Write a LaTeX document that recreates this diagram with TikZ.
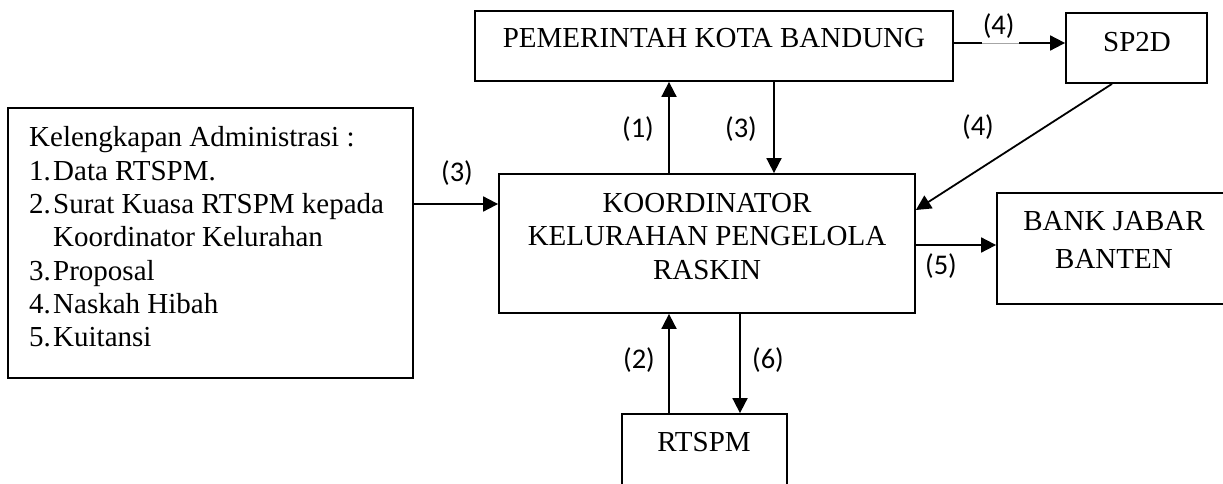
\documentclass[tikz,border=0pt]{standalone}
\usepackage{fontspec}
\setmainfont{Liberation Serif}
\newfontfamily\lblfont{Carlito}
\usetikzlibrary{arrows.meta}
\begin{document}
\begin{tikzpicture}[x=1pt,y=-1pt,
  boxnode/.style={draw,line width=1.8pt,inner sep=0pt},
  arr/.style={line width=1.8pt,-{Triangle[length=15pt,width=15pt]}},
  lbl/.style={font=\lblfont\fontsize{28.5}{32}\selectfont,inner sep=0pt},
  txt/.style={font=\fontsize{29}{33.5}\selectfont,inner sep=0pt,anchor=base},
  txtw/.style={font=\fontsize{29}{33.5}\selectfont,inner sep=0pt,anchor=base west}]
\useasboundingbox (0,0) rectangle (1223,484);
\clip (0,0) rectangle (1223,484);
\fill[white] (0,0) rectangle (1223,484);
% boxes
\node[boxnode,minimum width=478pt,minimum height=70pt] (pem) at (714,46) {};
\node[boxnode,minimum width=141pt,minimum height=70pt] (sp2d) at (1136.5,48) {};
\node[boxnode,minimum width=405pt,minimum height=270pt] (adm) at (210.5,243) {};
\node[boxnode,minimum width=416pt,minimum height=139pt] (koor) at (707,243.5) {};
\node[boxnode,minimum width=243pt,minimum height=111pt] (bank) at (1118.5,248.5) {};
\node[boxnode,minimum width=165pt,minimum height=96pt] (rtspm) at (704.5,462) {};
% texts
\node[txt] (tpem) at (714,48) {PEMERINTAH KOTA BANDUNG};
\node[txt] (tsp2d) at (1137,52) {SP2D};
\node[txt] (tk1) at (707,212) {KOORDINATOR};
\node[txt] (tk2) at (707,245) {KELURAHAN PENGELOLA};
\node[txt] (tk3) at (707,279.5) {RASKIN};
\node[txt] (tb1) at (1114,230) {BANK JABAR};
\node[txt] (tb2) at (1114,268) {BANTEN};
\node[txt] (tr) at (704,451) {RTSPM};
\node[txtw] (a0) at (29,146.7) {Kelengkapan Administrasi :};
\node[txtw] (n1) at (29,180) {1.};
\node[txtw] (a1) at (53,180) {Data RTSPM.};
\node[txtw] (n2) at (29,213.3) {2.};
\node[txtw] (a2) at (53,213.3) {Surat Kuasa RTSPM kepada};
\node[txtw] (a2b) at (53,246.7) {Koordinator Kelurahan};
\node[txtw] (n3) at (29,280) {3.};
\node[txtw] (a3) at (53,280) {Proposal};
\node[txtw] (n4) at (29,313.3) {4.};
\node[txtw] (a4) at (53,313.3) {Naskah Hibah};
\node[txtw] (n5) at (29,346.7) {5.};
\node[txtw] (a5) at (53,346.7) {Kuitansi};
% connector guides
\coordinate (c1) at (669,0);
\coordinate (c3) at (774,0);
\coordinate (r4) at (0,43);
\coordinate (d1) at (1112,0);
\coordinate (d2) at (0,210);
\coordinate (r3) at (0,204);
\coordinate (r5) at (0,245);
\coordinate (c6) at (740,0);
\coordinate (g1) at (982,43);
\coordinate (g2) at (1019,43);
% connectors
\draw[arr] (koor.north -| c1) -- (pem.south -| c1);
\draw[arr] (pem.south -| c3) -- (koor.north -| c3);
\draw[arr] (pem.east |- r4) -- (sp2d.west |- r4);
\draw[white,line width=2.4pt] (g1) -- (g2);
\draw[gray!70,line width=0.8pt] (g1) -- (g2);
\draw[arr] (sp2d.south -| d1) -- (koor.east |- d2);
\draw[arr] (adm.east |- r3) -- (koor.west |- r3);
\draw[arr] (koor.east |- r5) -- (bank.west |- r5);
\draw[arr] (rtspm.north -| c1) -- (koor.south -| c1);
\draw[arr] (koor.south -| c6) -- (rtspm.north -| c6);
% labels
\node[lbl] (l1) at (638,129) {(1)};
\node[lbl] (l3a) at (741,129) {(3)};
\node[lbl] (l4a) at (998.7,26) {(4)};
\node[lbl] (l4b) at (978,127.5) {(4)};
\node[lbl] (l3b) at (457,173) {(3)};
\node[lbl] (l5) at (941,266) {(5)};
\node[lbl] (l2) at (639,360) {(2)};
\node[lbl] (l6) at (768,360) {(6)};
\end{tikzpicture}
\end{document}
